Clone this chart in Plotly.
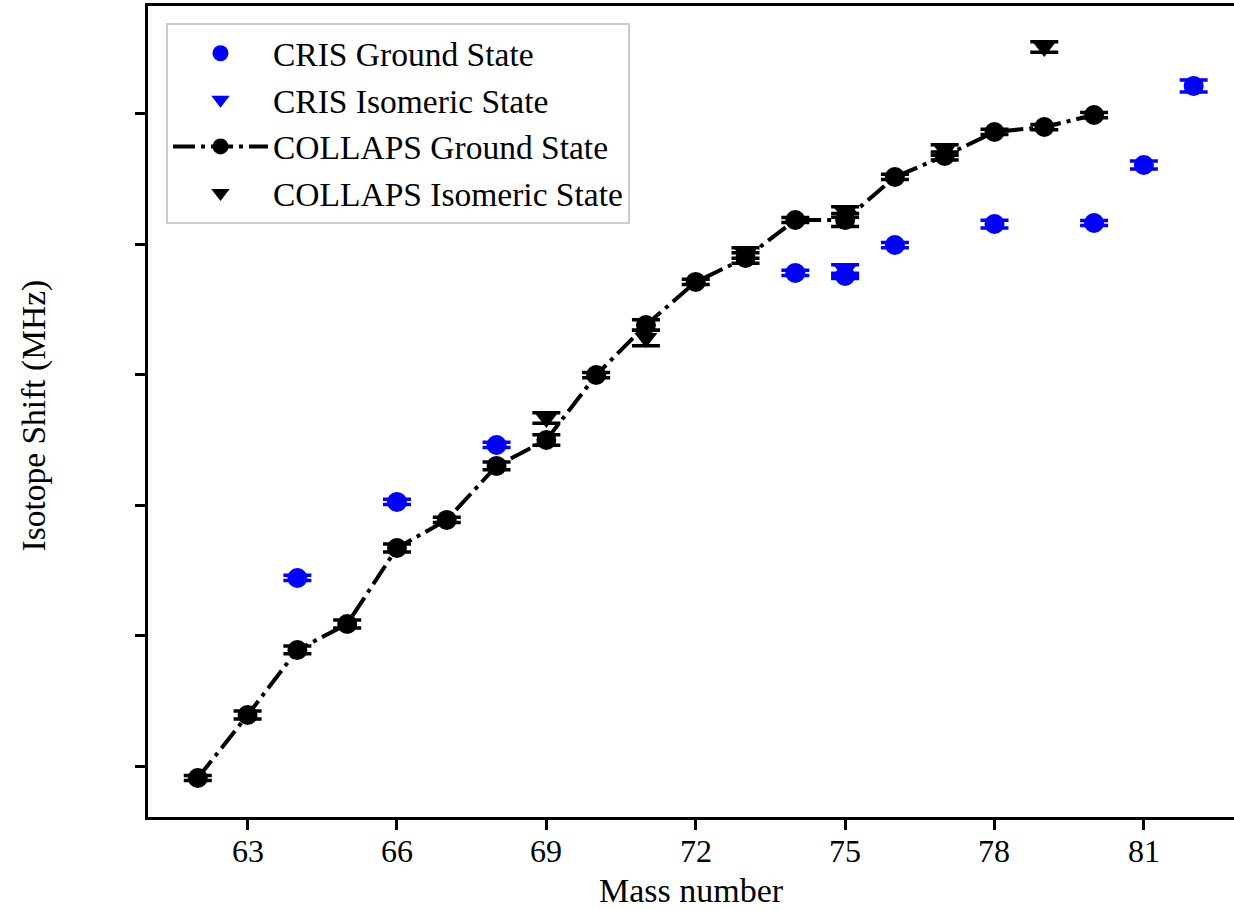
import plotly.graph_objects as go

# Data (arbitrary isotope-shift units)
collaps_gs_A = [62, 63, 64, 65, 66, 67, 68, 69, 70, 71, 72, 73, 74, 75, 76, 77, 78, 79, 80]
collaps_gs_y = [-0.092, 0.391, 0.890, 1.089, 1.672, 1.887, 2.301, 2.500, 2.998, 3.382,
                3.712, 3.896, 4.187, 4.187, 4.517, 4.678, 4.862, 4.900, 4.992]
collaps_gs_err = [0.02, 0.03, 0.03, 0.03, 0.03, 0.02, 0.03, 0.04, 0.02, 0.04,
                  0.02, 0.04, 0.02, 0.05, 0.02, 0.03, 0.02, 0.02, 0.02]

collaps_is_A = [69, 71, 73, 75, 77, 79]
collaps_is_y = [2.669, 3.282, 3.934, 4.248, 4.724, 5.514]
collaps_is_err = [0.04, 0.06, 0.04, 0.04, 0.04, 0.04]

cris_gs_A = [64, 66, 68, 74, 75, 76, 78, 80, 81, 82]
cris_gs_y = [1.442, 2.025, 2.462, 3.781, 3.758, 3.995, 4.156, 4.164, 4.609, 5.215]
cris_gs_err = [0.02, 0.02, 0.02, 0.02, 0.02, 0.02, 0.03, 0.02, 0.03, 0.046]

cris_is_A = [75]
cris_is_y = [3.804]
cris_is_err = [0.04]

x_ticks = [63, 66, 69, 72, 75, 78, 81]
y_ticks = [0, 1, 2, 3, 4, 5]

BLUE = "#0000ff"
BLACK = "#000000"
FONT = "Liberation Serif, Times New Roman, serif"

def err(vals, color):
    return dict(type="data", array=vals, visible=True, color=color,
                thickness=3.5, width=14)

fig = go.Figure()
fig.add_trace(go.Scatter(
    x=cris_gs_A, y=cris_gs_y, mode="markers", name="CRIS Ground State",
    marker=dict(symbol="circle", size=20, color=BLUE),
    error_y=err(cris_gs_err, BLUE)))
fig.add_trace(go.Scatter(
    x=cris_is_A, y=cris_is_y, mode="markers", name="CRIS Isomeric State",
    marker=dict(symbol="triangle-down", size=20, color=BLUE),
    error_y=err(cris_is_err, BLUE)))
fig.add_trace(go.Scatter(
    x=collaps_gs_A, y=collaps_gs_y, mode="lines+markers", name="COLLAPS Ground State",
    line=dict(color=BLACK, width=4, dash="22px,6px,4px,6px"),
    marker=dict(symbol="circle", size=20, color=BLACK),
    error_y=err(collaps_gs_err, BLACK)))
fig.add_trace(go.Scatter(
    x=collaps_is_A, y=collaps_is_y, mode="markers", name="COLLAPS Isomeric State",
    marker=dict(symbol="triangle-down", size=20, color=BLACK),
    error_y=err(collaps_is_err, BLACK)))

L, R, T, B = 148, 0, 6, 93
W, H = 1234, 910
pw = W - L - R
ph = H - T - B

annotations = [
    dict(text="Mass number", x=0.5, y=0, xref="paper", yref="paper",
         xanchor="center", yanchor="middle", yshift=-73, showarrow=False,
         font=dict(family=FONT, size=34, color="black")),
    dict(text="Isotope Shift (MHz)", x=0, y=0.5, xref="paper", yref="paper",
         xanchor="center", yanchor="middle", xshift=-115, yshift=-4,
         textangle=-90, showarrow=False,
         font=dict(family=FONT, size=33.5, color="black")),
]
for v in x_ticks:
    annotations.append(dict(text=str(v), x=v, y=0, xref="x", yref="paper",
                            xanchor="center", yanchor="middle", yshift=-34,
                            showarrow=False,
                            font=dict(family=FONT, size=32, color="black")))

fig.update_layout(
    width=W, height=H,
    margin=dict(l=L, r=R, t=T, b=B),
    paper_bgcolor="white", plot_bgcolor="white",
    font=dict(family=FONT, size=32, color="black"),
    showlegend=True,
    legend=dict(
        x=(166 - L) / pw, y=(H - B - 23) / ph, xanchor="left", yanchor="top",
        bgcolor="rgba(255,255,255,0.8)", bordercolor="#cccccc", borderwidth=2,
        font=dict(family=FONT, size=33.5, color="black"),
        itemwidth=95, tracegroupgap=0,
    ),
    xaxis=dict(
        range=[61.0, 82.81], tickvals=x_ticks, ticktext=["" for _ in x_ticks],
        showline=True, linecolor="black", linewidth=3, mirror=True,
        ticks="outside", ticklen=10, tickwidth=3, tickcolor="black",
        showgrid=False, zeroline=False,
    ),
    yaxis=dict(
        range=[-0.391, 5.828], tickvals=y_ticks, ticktext=["" for _ in y_ticks],
        showline=True, linecolor="black", linewidth=3, mirror=False,
        ticks="outside", ticklen=10, tickwidth=3, tickcolor="black",
        showgrid=False, zeroline=False,
    ),
    annotations=annotations,
)

fig.write_html("out.html")
